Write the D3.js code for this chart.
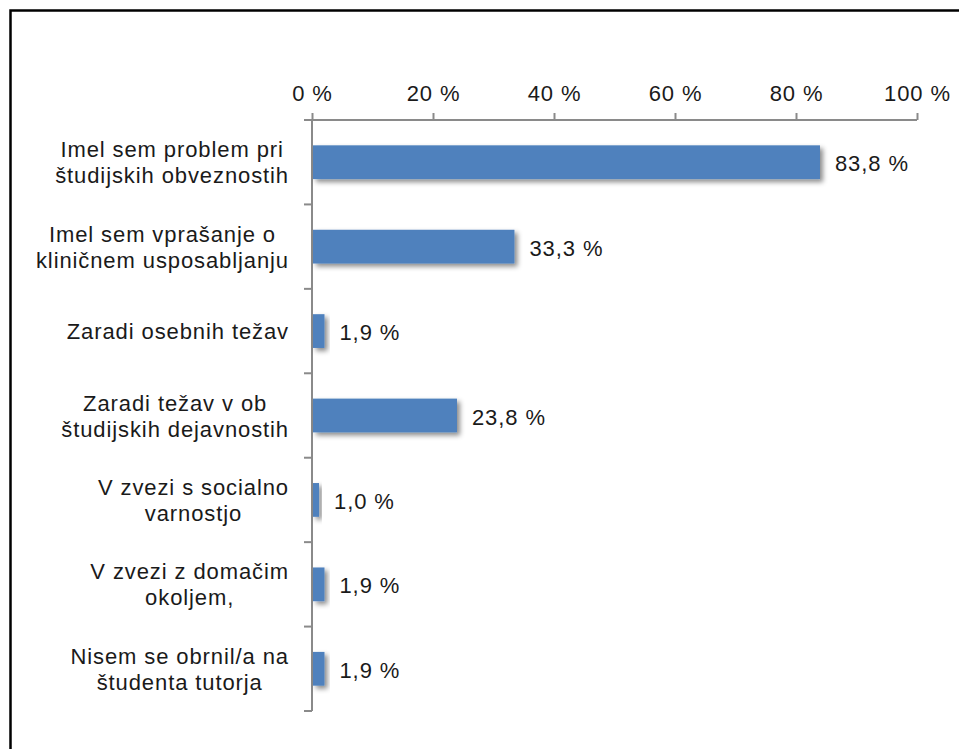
<!DOCTYPE html>
<html>
<head>
<meta charset="utf-8">
<script src="https://cdn.jsdelivr.net/npm/d3@7"></script>
<style>
  body { margin: 0; background: #fff; }
  svg text {
    font-family: "Liberation Sans", Arial, sans-serif;
    font-size: 22px;
    letter-spacing: 0.9px;
    fill: #1a1a1a;
  }
</style>
</head>
<body>
<div id="wrapper"></div>
<script>
// Chart data
const categories = [
  "Imel sem problem pri\nštudijskih obveznostih",
  "Imel sem vprašanje o\nkliničnem usposabljanju",
  "Zaradi osebnih težav",
  "Zaradi težav v ob\nštudijskih dejavnostih",
  "V zvezi s socialno\nvarnostjo",
  "V zvezi z domačim\nokoljem,",
  "Nisem se obrnil/a na\nštudenta tutorja",
];
const values = [83.8, 33.3, 1.9, 23.8, 1.0, 1.9, 1.9];
const tickValues = [0, 20, 40, 60, 80, 100];

const formatPct = d => d3.format(".1f")(d).replace(".", ",") + " %";

function drawChart() {
  const width = 959;
  const height = 749;

  const svg = d3.select("#wrapper")
    .append("svg")
      .attr("width", width)
      .attr("height", height);

  // outer frame (only left and top edges fall inside the picture)
  svg.append("rect")
    .attr("x", 10.5)
    .attr("y", 10.5)
    .attr("width", width + 20)
    .attr("height", height + 20)
    .attr("fill", "none")
    .attr("stroke", "#000")
    .attr("stroke-width", 2.5);

  const defs = svg.append("defs");
  defs.append("filter")
      .attr("id", "bar-shadow")
      .attr("x", "-20%").attr("y", "-20%")
      .attr("width", "160%").attr("height", "160%")
    .append("feDropShadow")
      .attr("dx", 3)
      .attr("dy", 3)
      .attr("stdDeviation", 2.5)
      .attr("flood-color", "#000")
      .attr("flood-opacity", 0.45);

  // Scales
  const x = d3.scaleLinear()
    .domain([0, 100])
    .range([312, 917]);

  const y = d3.scaleBand()
    .domain(categories)
    .range([120, 711])
    .paddingInner(0.6)
    .paddingOuter(0.3);

  const axisColor = "#8a8a8a";

  // Top value axis
  const xAxis = svg.append("g")
    .attr("transform", `translate(0, ${y.range()[0]})`)
    .call(d3.axisTop(x)
      .tickValues(tickValues)
      .tickSize(7)
      .tickPadding(12)
      .tickFormat(d => d + " %"));
  xAxis.select(".domain")
    .attr("d", `M${x(0) - 8},0H${x(100)}`)
    .attr("stroke", axisColor)
    .attr("stroke-width", 2);
  xAxis.selectAll(".tick line")
    .attr("stroke", axisColor)
    .attr("stroke-width", 2);
  xAxis.selectAll(".tick text")
    .attr("fill", "#1a1a1a")
    .style("font-size", "22px")
    .style("font-family", "\"Liberation Sans\", Arial, sans-serif");

  // Left category axis line and ticks between categories
  const catAxis = svg.append("g");
  catAxis.append("line")
    .attr("x1", x(0)).attr("x2", x(0))
    .attr("y1", y.range()[0]).attr("y2", y.range()[1])
    .attr("stroke", axisColor)
    .attr("stroke-width", 2);
  const boundaries = d3.range(categories.length + 1)
    .map(i => y.range()[0] + i * y.step());
  catAxis.selectAll(".cat-tick")
    .data(boundaries)
    .join("line")
      .attr("class", "cat-tick")
      .attr("x1", x(0) - 8).attr("x2", x(0))
      .attr("y1", d => d).attr("y2", d => d)
      .attr("stroke", axisColor)
      .attr("stroke-width", 2);

  // Bars
  svg.append("g")
    .selectAll("rect")
    .data(values)
    .join("rect")
      .attr("x", x(0) + 1)
      .attr("y", (d, i) => y(categories[i]))
      .attr("width", d => x(d) - x(0))
      .attr("height", y.bandwidth())
      .attr("fill", "#4f81bd")
      .attr("filter", "url(#bar-shadow)");

  // Value labels
  svg.append("g")
    .selectAll("text")
    .data(values)
    .join("text")
      .attr("x", d => x(d) + 16)
      .attr("y", (d, i) => y(categories[i]) + y.bandwidth() / 2 + 9)
      .text(d => formatPct(d));

  // Category labels: lines centred on each other, block right-aligned
  const labelRight = 289;
  const lineHeight = 26;
  const labels = svg.append("g");
  categories.forEach((c, i) => {
    const lines = c.split("\n");
    const mid = y(c) + y.bandwidth() / 2;
    const g = labels.append("g");
    const texts = lines.map((ln, j) => g.append("text")
      .attr("y", mid + 8 + (j - (lines.length - 1) / 2) * lineHeight)
      .attr("text-anchor", "middle")
      .text(ln));
    const maxW = d3.max(texts, t => t.node().getComputedTextLength());
    texts.forEach(t => t.attr("x", labelRight - maxW / 2));
  });
}
drawChart();
</script>
</body>
</html>
